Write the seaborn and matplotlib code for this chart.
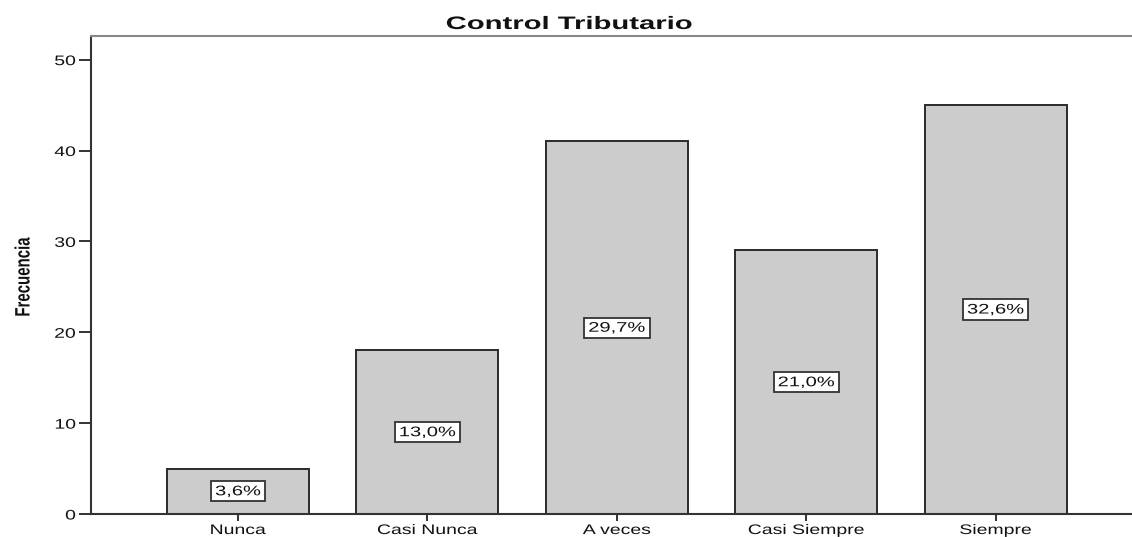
import matplotlib
matplotlib.use("Agg")
import matplotlib.pyplot as plt
import seaborn as sns
import pandas as pd
from matplotlib.patheffects import AbstractPathEffect
from matplotlib.transforms import Affine2D
from matplotlib.path import Path

categories = ["Nunca", "Casi Nunca", "A veces", "Casi Siempre", "Siempre"]
frecuencias = [5, 18, 41, 29, 45]
porcentajes = ["3,6%", "13,0%", "29,7%", "21,0%", "32,6%"]

sns.set_theme(style="white")
plt.rcParams["font.family"] = ["Liberation Sans", "DejaVu Sans"]


class Stretch(AbstractPathEffect):
    """Scale glyphs along the text direction around an anchor (left/center/right)."""

    def __init__(self, sx, anchor="center"):
        super().__init__()
        self.sx = sx
        self.anchor = anchor

    def draw_path(self, renderer, gc, tpath, affine, rgbFace=None):
        ext = tpath.get_extents()
        if self.anchor == "right":
            x0 = ext.x1
        elif self.anchor == "left":
            x0 = ext.x0
        else:
            x0 = 0.5 * (ext.x0 + ext.x1)
        pre = Affine2D().translate(-x0, 0).scale(self.sx, 1).translate(x0, 0)
        renderer.draw_path(gc, tpath, pre + affine, rgbFace)


def wide_box(sx, pad):
    """Square box around a label whose glyphs are widened by sx."""
    def box(x0, y0, width, height, mutation_size):
        p = pad * mutation_size
        cx = x0 + width / 2
        half = width * sx / 2
        xa, xb = cx - half - p, cx + half + p
        ya, yb = y0 - p * 0.75, y0 + height + p * 0.75
        return Path([(xa, ya), (xb, ya), (xb, yb), (xa, yb), (xa, ya)], closed=True)
    return box


df = pd.DataFrame({"categoria": categories, "frecuencia": frecuencias})

fig = plt.figure(figsize=(11.32, 5.37), dpi=100)
ax = fig.add_axes([91 / 1132, 1 - 514 / 537, 1 - 91 / 1132, (514 - 36) / 537])

sns.barplot(data=df, x="categoria", y="frecuencia", order=categories,
            color="#cccccc", saturation=1, width=0.75,
            edgecolor="#2a2a2a", linewidth=1.4, ax=ax)

for i, (v, txt) in enumerate(zip(frecuencias, porcentajes)):
    t = ax.text(i, v / 2, txt, ha="center", va="center", fontsize=10, color="#111111",
                bbox=dict(boxstyle=wide_box(1.45, 0.3), facecolor="white",
                          edgecolor="#333333", linewidth=1.3))
    t.set_path_effects([Stretch(1.45)])

ax.set_xlim(-0.776, 4.72)
ax.set_ylim(0, 52.6)
ax.set_yticks([0, 10, 20, 30, 40, 50])
ax.set_xlabel("")
ax.set_ylabel("Frecuencia", fontsize=15, fontweight="bold", va="center", color="#111111")
ax.yaxis.set_label_coords((24 - 91) / 1041, (514 - 277) / 478)
ax.yaxis.label.set_path_effects([Stretch(0.72)])

title = fig.text(569 / 1132, 1 - 29 / 537, "Control Tributario", ha="center",
                 va="baseline", fontsize=13, fontweight="bold", color="#111111")
title.set_path_effects([Stretch(1.62)])

ax.tick_params(axis="both", which="both", direction="out", width=1.4,
               color="#333333", labelsize=10, labelcolor="#111111",
               bottom=True, left=True)
ax.tick_params(axis="x", length=5, pad=1.5)
ax.tick_params(axis="y", length=9, pad=2)

for lab in ax.get_xticklabels():
    lab.set_path_effects([Stretch(1.4)])
for lab in ax.get_yticklabels():
    lab.set_path_effects([Stretch(1.4, "right")])

for side in ["left", "bottom"]:
    ax.spines[side].set_color("#333333")
    ax.spines[side].set_linewidth(1.5)
ax.spines["top"].set_color("#888888")
ax.spines["top"].set_linewidth(1.5)
ax.spines["right"].set_visible(False)

fig.savefig("out.png", dpi=100)
